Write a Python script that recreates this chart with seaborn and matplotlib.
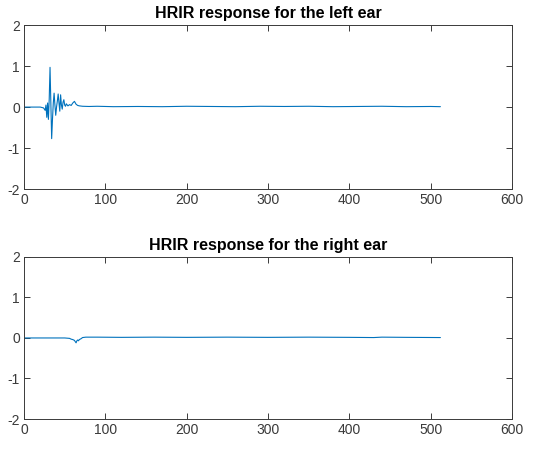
import matplotlib
matplotlib.use('Agg')
import matplotlib.pyplot as plt
import numpy as np
import pandas as pd
import seaborn as sns

# sample index / amplitude (breakpoints of the trace)
left_idx = [1, 20, 24, 26, 27, 28, 29, 30, 31, 32, 33, 34, 35, 36, 37, 38, 39, 40,
            41, 42, 43, 44, 45, 46, 47, 48, 49, 50, 51, 52, 54, 56, 58, 60, 62, 64,
            66, 68, 72, 80, 90, 110, 140, 170, 200, 230, 260, 290, 320, 350, 380,
            410, 440, 470, 500, 512]
left_val = [0.0, 0.0, -0.02, -0.08, 0.05, -0.25, 0.1, -0.3, 0.2, 0.97, 0.1, -0.77,
            -0.3, 0.1, 0.34, 0.05, -0.2, 0.0, 0.15, 0.32, 0.1, -0.1, 0.3, 0.05,
            -0.05, 0.12, 0.18, 0.05, 0.02, 0.08, 0.03, 0.06, 0.04, 0.1, 0.14, 0.07,
            0.04, 0.03, 0.02, 0.015, 0.02, 0.01, 0.015, 0.01, 0.02, 0.015, 0.01,
            0.02, 0.015, 0.02, 0.01, 0.015, 0.02, 0.01, 0.015, 0.01]

right_idx = [1, 30, 50, 56, 58, 60, 62, 63, 64, 65, 66, 67, 68, 70, 72, 76, 90, 120,
             160, 200, 250, 300, 350, 400, 430, 440, 470, 512]
right_val = [0.0, 0.0, 0.0, -0.01, -0.03, -0.04, -0.06, -0.09, -0.12, -0.07, -0.05,
             -0.07, -0.04, -0.02, 0.01, 0.02, 0.02, 0.015, 0.02, 0.015, 0.02, 0.015,
             0.02, 0.015, 0.01, 0.02, 0.015, 0.01]

titles = ['HRIR response for the left ear', 'HRIR response for the right ear']
x_ticks = [0, 100, 200, 300, 400, 500, 600]
y_ticks = [-2, -1, 0, 1, 2]

sns.set_style('white')
plt.rcParams['font.family'] = ['Liberation Sans', 'DejaVu Sans']
plt.rcParams['axes.unicode_minus'] = False

fig = plt.figure(figsize=(5.42, 4.49), dpi=100)
axes = [fig.add_axes([0.0443, 0.579, 0.9003, 0.365]),
        fig.add_axes([0.0443, 0.0668, 0.9003, 0.361])]

series = [(left_idx, left_val), (right_idx, right_val)]
for ax, (idx, val), title in zip(axes, series, titles):
    df = pd.DataFrame({'sample': idx, 'amp': val})
    sns.lineplot(data=df, x='sample', y='amp', ax=ax, color='#0072BD', linewidth=0.8)
    ax.set_xlim(0, 600)
    ax.set_ylim(-2, 2)
    ax.set_xticks(x_ticks)
    ax.set_yticks(y_ticks)
    ax.set_xlabel('')
    ax.set_ylabel('')
    ax.set_title(title, fontsize=11.5, fontweight='bold', color='black', pad=5)
    ax.tick_params(direction='in', length=4, width=0.7, colors='#3a3a3a',
                   labelsize=10, top=True, right=True, bottom=True, left=True, pad=3)
    for s in ax.spines.values():
        s.set_color('#3a3a3a')
        s.set_linewidth(0.7)

fig.savefig('out.png', dpi=100)
